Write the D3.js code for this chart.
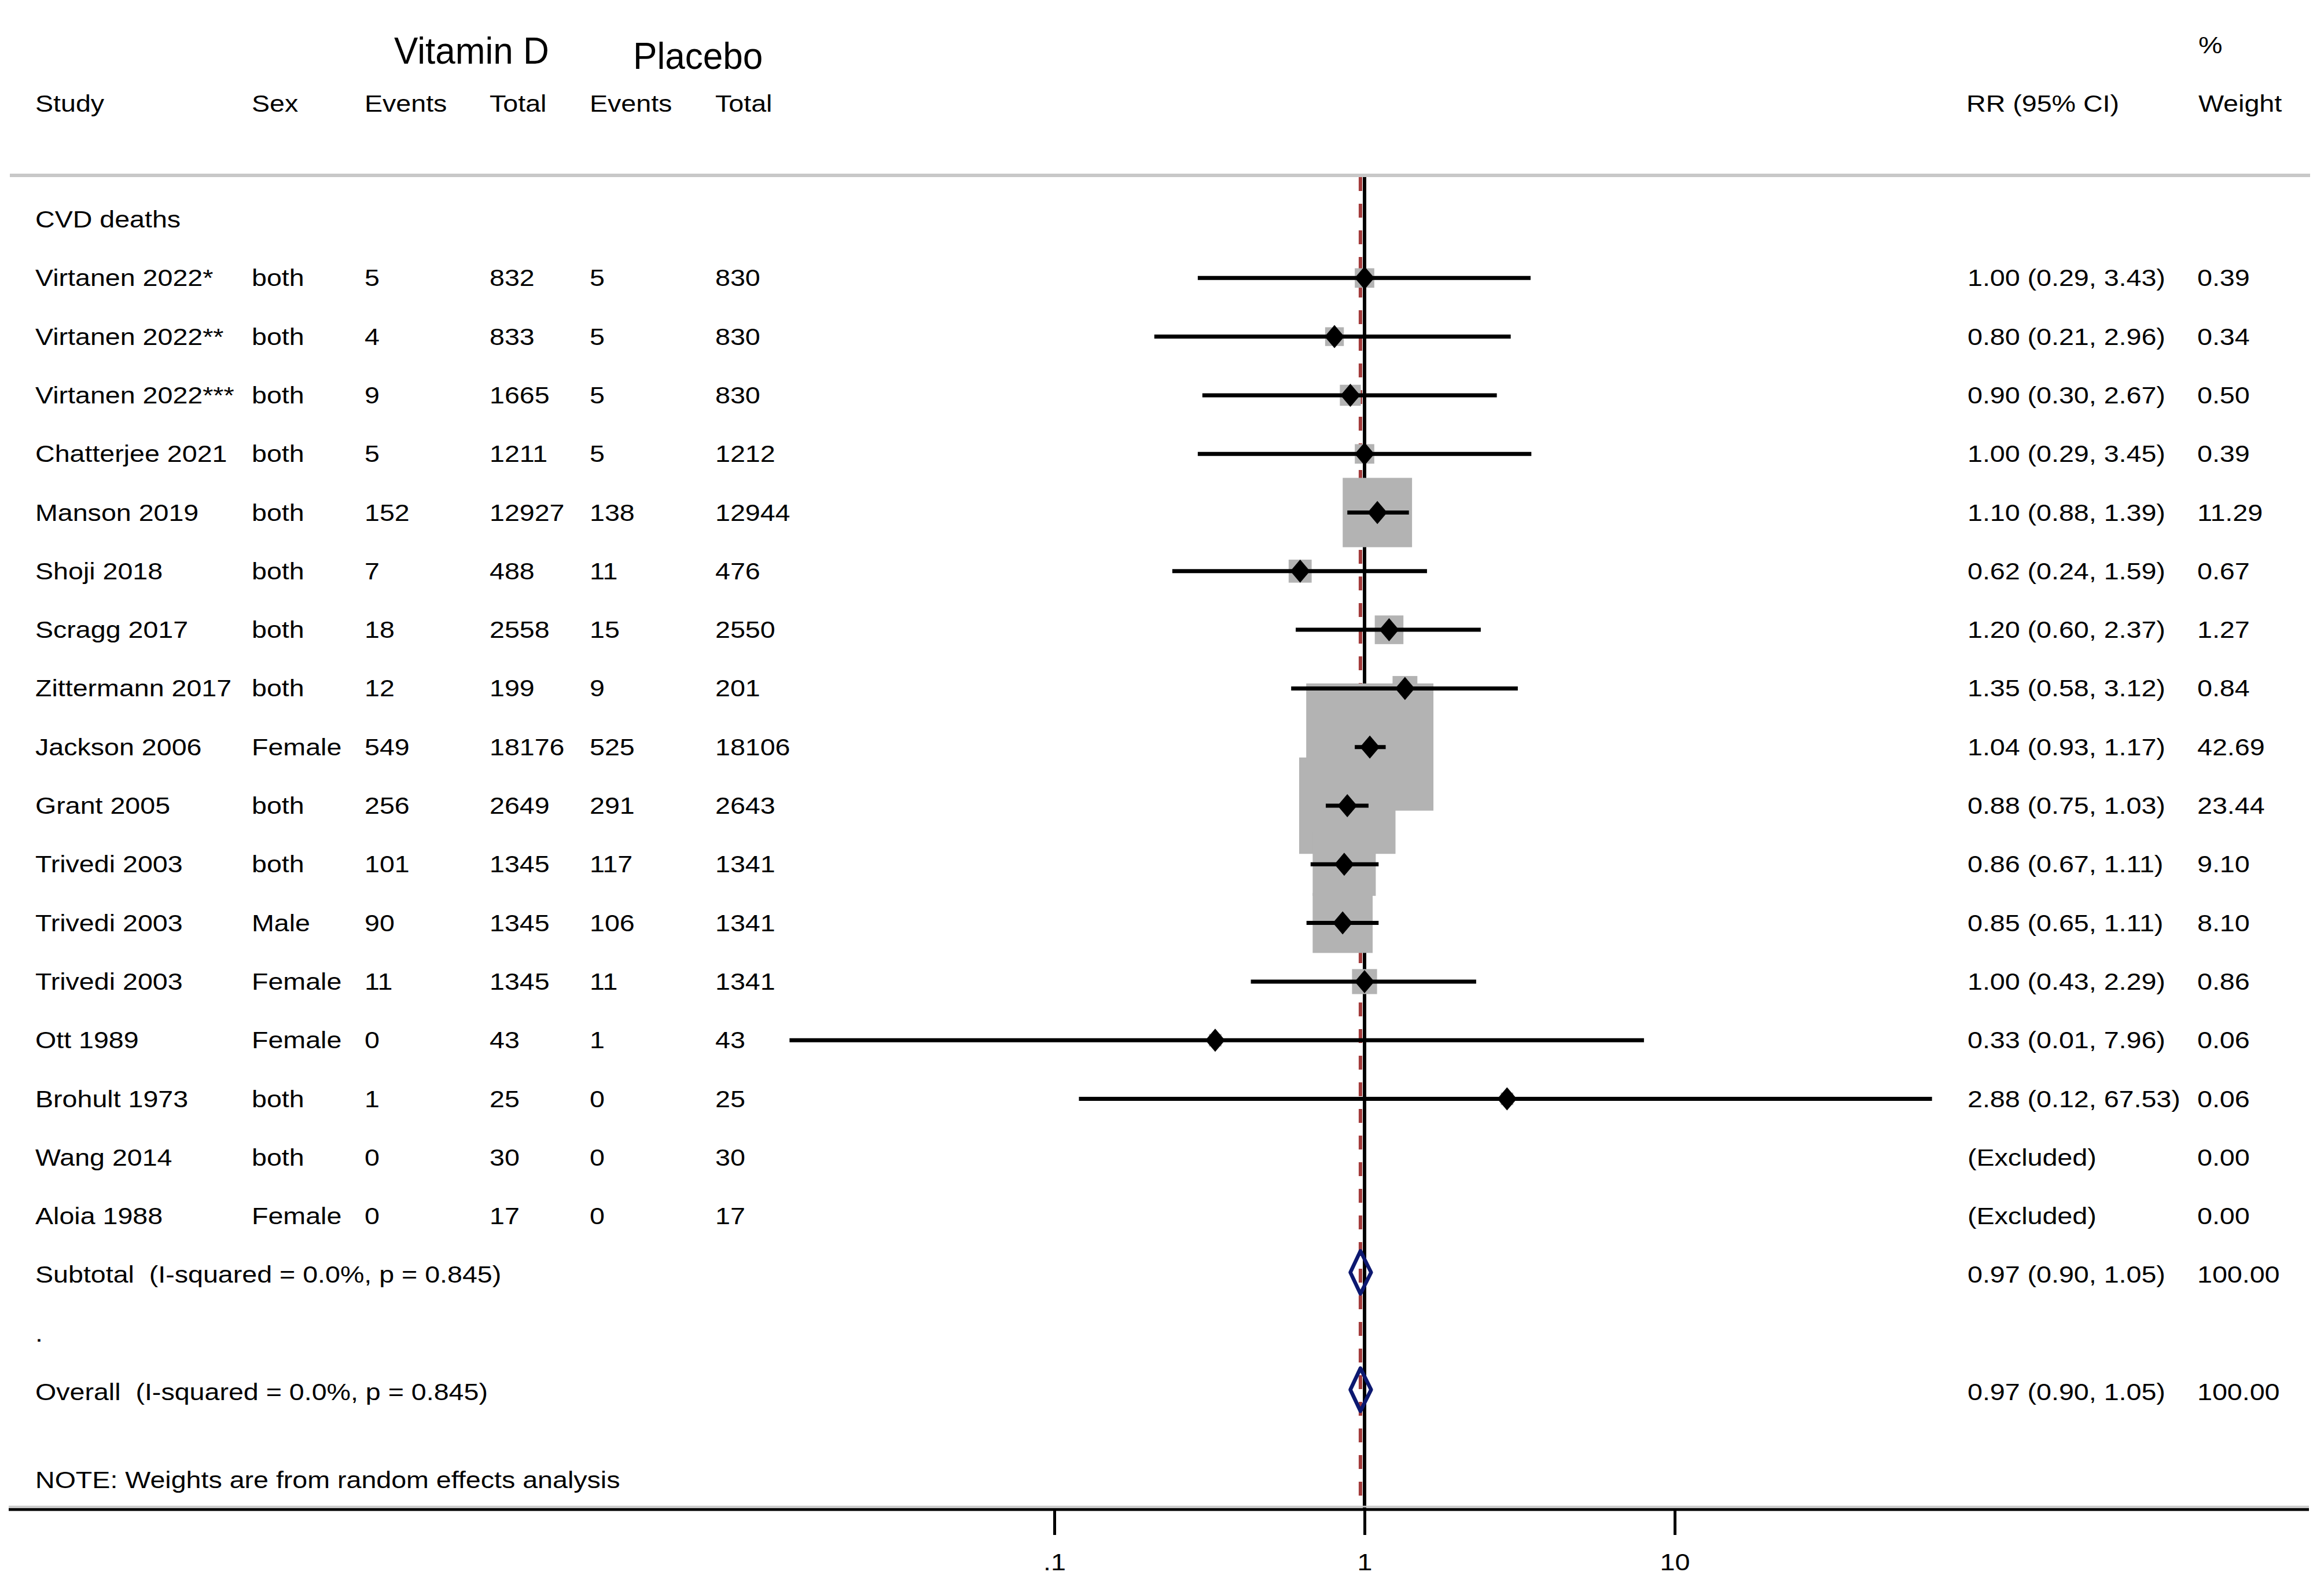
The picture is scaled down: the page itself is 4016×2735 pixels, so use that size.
<!DOCTYPE html>
<html><head><meta charset="utf-8">
<script src="https://cdn.jsdelivr.net/npm/d3@7/dist/d3.min.js"></script>
<style>
html,body{margin:0;padding:0;background:#fff;}
text{font-family:"Liberation Sans",Arial,Helvetica,sans-serif;white-space:pre;fill:#000;}
</style>
</head><body><svg id="chart"></svg>
<script>
// ---------- DATA ----------
const studies = ["Virtanen 2022*","Virtanen 2022**","Virtanen 2022***","Chatterjee 2021","Manson 2019","Shoji 2018","Scragg 2017","Zittermann 2017","Jackson 2006","Grant 2005","Trivedi 2003","Trivedi 2003","Trivedi 2003","Ott 1989","Brohult 1973","Wang 2014","Aloia 1988"];
const sexes = ["both","both","both","both","both","both","both","both","Female","both","both","Male","Female","Female","both","both","Female"];
const vitDEvents = [5,4,9,5,152,7,18,12,549,256,101,90,11,0,1,0,0];
const vitDTotal = [832,833,1665,1211,12927,488,2558,199,18176,2649,1345,1345,1345,43,25,30,17];
const placeboEvents = [5,5,5,5,138,11,15,9,525,291,117,106,11,1,0,0,0];
const placeboTotal = [830,830,830,1212,12944,476,2550,201,18106,2643,1341,1341,1341,43,25,30,17];
const rr = [1.00,0.80,0.90,1.00,1.10,0.62,1.20,1.35,1.04,0.88,0.86,0.85,1.00,0.33,2.88,null,null];
const ciLow = [0.29,0.21,0.30,0.29,0.88,0.24,0.60,0.58,0.93,0.75,0.67,0.65,0.43,0.01,0.12,null,null];
const ciHigh = [3.43,2.96,2.67,3.45,1.39,1.59,2.37,3.12,1.17,1.03,1.11,1.11,2.29,7.96,67.53,null,null];
const weights = [0.39,0.34,0.50,0.39,11.29,0.67,1.27,0.84,42.69,23.44,9.10,8.10,0.86,0.06,0.06,0.00,0.00];
const rrLabels = ["1.00 (0.29, 3.43)","0.80 (0.21, 2.96)","0.90 (0.30, 2.67)","1.00 (0.29, 3.45)","1.10 (0.88, 1.39)","0.62 (0.24, 1.59)","1.20 (0.60, 2.37)","1.35 (0.58, 3.12)","1.04 (0.93, 1.17)","0.88 (0.75, 1.03)","0.86 (0.67, 1.11)","0.85 (0.65, 1.11)","1.00 (0.43, 2.29)","0.33 (0.01, 7.96)","2.88 (0.12, 67.53)","(Excluded)","(Excluded)"];
const weightLabels = ["0.39","0.34","0.50","0.39","11.29","0.67","1.27","0.84","42.69","23.44","9.10","8.10","0.86","0.06","0.06","0.00","0.00"];
const summaryLabels = ["Subtotal  (I-squared = 0.0%, p = 0.845)","Overall  (I-squared = 0.0%, p = 0.845)"];
const summaryEst = [0.97,0.97];
const summaryLow = [0.90,0.90];
const summaryHigh = [1.05,1.05];
const summaryRRLabels = ["0.97 (0.90, 1.05)","0.97 (0.90, 1.05)"];
const summaryWeightLabels = ["100.00","100.00"];
const groupTitle = "CVD deaths";
const noteText = "NOTE: Weights are from random effects analysis";
const columnHeaders = ["Study","Sex","Events","Total","Events","Total"];
const armHeaders = ["Vitamin D","Placebo"];
const tickValues = [0.1,1,10];
const tickLabels = [".1","1","10"];
const clipMin = 0.014, clipMax = 100;

// ---------- LAYOUT ----------
const W = 4016, H = 2735;
const svg = d3.select("#chart").attr("width", W).attr("height", H).style("display","block");
svg.append("rect").attr("width",W).attr("height",H).attr("fill","#fff");

const x = d3.scaleLog().domain([0.1, 10]).range([1822, 2894]);
const y = d3.scaleLinear().domain([0, 1]).range([379, 480.3]);
const boxScale = d3.scaleSqrt().domain([0, 100]).range([0, 315]);
const topY = 303, axisY = 2608;
const FS = 40, SX = 1.165;
const colX = [61, 435, 630, 846, 1019, 1236];
const rrX = 3400, wX = 3797;

function txt(xp, yp, s, size, sx, anchor) {
  return svg.append("text")
    .attr("transform", `translate(${xp},${yp}) scale(${sx},1)`)
    .attr("font-size", size)
    .attr("text-anchor", anchor || "start")
    .text(s);
}

// separator line
svg.append("line").attr("x1",17).attr("x2",3992).attr("y1",topY).attr("y2",topY)
  .attr("stroke","#c8c8c8").attr("stroke-width",6);

// reference lines
const overallX = x(summaryEst[1]);
svg.append("line").attr("x1",overallX).attr("x2",overallX).attr("y1",topY+3).attr("y2",axisY)
  .attr("stroke","#a33b3b").attr("stroke-width",6).attr("stroke-dasharray","24,22");
svg.append("line").attr("x1",x(1)).attr("x2",x(1)).attr("y1",topY+3).attr("y2",axisY)
  .attr("stroke","#000").attr("stroke-width",6);

// study indices with estimates
const idx = d3.range(studies.length).filter(i => rr[i] !== null);

// weight boxes
svg.append("g").selectAll("rect").data(idx).join("rect")
  .attr("x", i => x(rr[i]) - (boxScale(weights[i]) + 14) / 2)
  .attr("y", i => y(i + 1) - (boxScale(weights[i]) + 14) / 2)
  .attr("width", i => boxScale(weights[i]) + 14)
  .attr("height", i => boxScale(weights[i]) + 14)
  .attr("fill", "#b3b3b3");

// CI lines
svg.append("g").selectAll("line").data(idx).join("line")
  .attr("x1", i => x(Math.max(ciLow[i], clipMin)))
  .attr("x2", i => x(Math.min(ciHigh[i], clipMax)))
  .attr("y1", i => y(i + 1)).attr("y2", i => y(i + 1))
  .attr("stroke", "#000").attr("stroke-width", 7);

// point markers (diamonds)
svg.append("g").selectAll("path").data(idx).join("path")
  .attr("d", i => {
    const cx = x(rr[i]), cy = y(i + 1);
    return `M${cx},${cy-20}L${cx+17},${cy}L${cx},${cy+20}L${cx-17},${cy}Z`;
  })
  .attr("fill", "#000");

// summary diamonds
const sumRows = [18, 20];
svg.append("g").selectAll("path").data([0,1]).join("path")
  .attr("d", k => {
    const cy = y(sumRows[k]) - 4;
    return `M${x(summaryLow[k])},${cy}L${x(summaryEst[k])},${cy-37}L${x(summaryHigh[k])},${cy}L${x(summaryEst[k])},${cy+37}Z`;
  })
  .attr("fill", "none").attr("stroke", "#0c1870").attr("stroke-width", 6.5).attr("stroke-linejoin","round");

// bottom axis
svg.append("line").attr("x1",15).attr("x2",3990).attr("y1",axisY-5).attr("y2",axisY-5)
  .attr("stroke","#c8c8c8").attr("stroke-width",3);
svg.append("line").attr("x1",15).attr("x2",3990).attr("y1",axisY).attr("y2",axisY)
  .attr("stroke","#000").attr("stroke-width",5);
const axis = d3.axisBottom(x).tickValues(tickValues)
  .tickFormat((d, i) => tickLabels[i]).tickSize(44).tickPadding(0);
const ax = svg.append("g").attr("transform", `translate(0,${axisY})`).call(axis);
ax.select(".domain").remove();
ax.selectAll(".tick line").attr("stroke","#000").attr("stroke-width",5);
ax.selectAll(".tick text")
  .attr("font-size", FS).attr("font-family", '"Liberation Sans",Arial,sans-serif')
  .attr("fill","#000").attr("y", 105).attr("dy", 0)
  .attr("transform", `scale(${SX},1)`);

// ---------- TEXT ----------
txt(681, 110, armHeaders[0], 64, 0.97);
txt(1094, 119, armHeaders[1], 64, 0.97);
columnHeaders.forEach((h, j) => txt(colX[j], 193, h, FS, SX));
txt(rrX - 2, 193, "RR (95% CI)", FS, SX);
txt(wX + 2, 193, "Weight", FS, SX);
txt(wX + 2, 92, "%", FS, SX);

const base = 14;
txt(colX[0], y(0) + base, groupTitle, FS, SX);
studies.forEach((s, i) => {
  const yy = y(i + 1) + base;
  txt(colX[0], yy, s, FS, SX);
  txt(colX[1], yy, sexes[i], FS, SX);
  txt(colX[2], yy, String(vitDEvents[i]), FS, SX);
  txt(colX[3], yy, String(vitDTotal[i]), FS, SX);
  txt(colX[4], yy, String(placeboEvents[i]), FS, SX);
  txt(colX[5], yy, String(placeboTotal[i]), FS, SX);
  txt(rrX, yy, rrLabels[i], FS, SX);
  txt(wX, yy, weightLabels[i], FS, SX);
});
[0,1].forEach(k => {
  const yy = y(sumRows[k]) + base;
  txt(colX[0], yy, summaryLabels[k], FS, SX);
  txt(rrX, yy, summaryRRLabels[k], FS, SX);
  txt(wX, yy, summaryWeightLabels[k], FS, SX);
});
txt(colX[0], y(19) + base, ".", FS, SX);
txt(colX[0], y(21.5) + base, noteText, FS, SX);
</script>
</body></html>
